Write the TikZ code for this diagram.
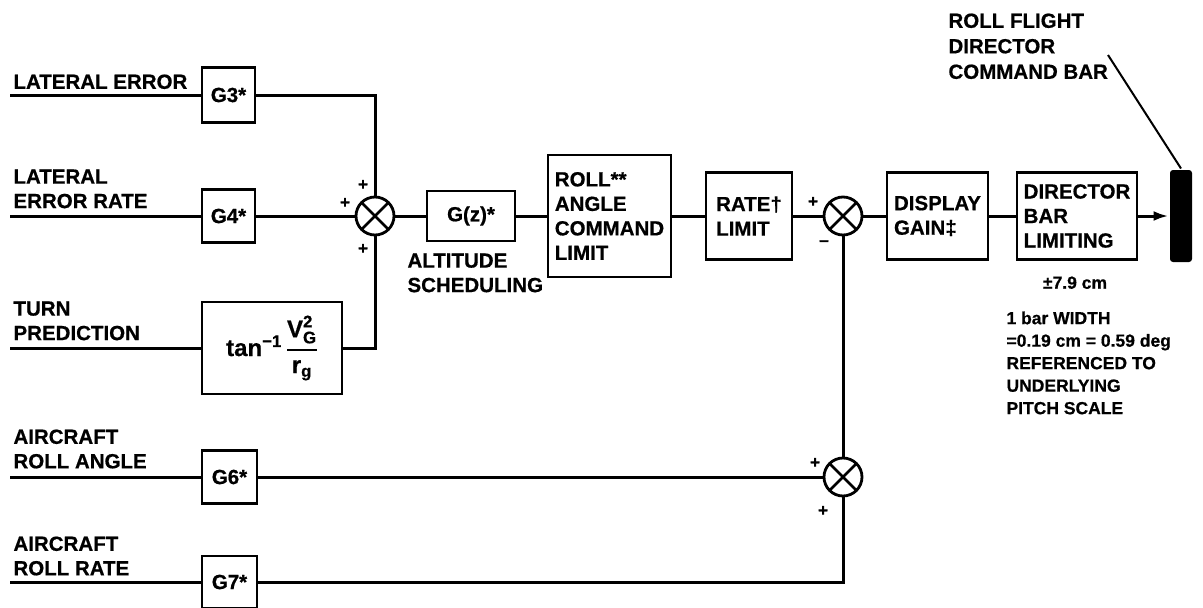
\documentclass[tikz,border=0pt]{standalone}
\usepackage{amsmath}
\usepackage{fontspec}
\setmainfont{Liberation Sans}[BoldFeatures={FakeBold=0.6}]
\usetikzlibrary{arrows.meta}
\tikzset{
  blk/.style={draw,line width=2.8pt,inner sep=0pt,align=left},
  sumj/.style={draw,circle,line width=2.8pt,minimum size=38pt,inner sep=0pt,
    path picture={\draw[line width=2.8pt](path picture bounding box.north west)--(path picture bounding box.south east)
      (path picture bounding box.north east)--(path picture bounding box.south west);}},
  lbl/.style={anchor=north west,inner sep=0pt,align=left},
  note/.style={anchor=north west,inner sep=0pt,align=left,font=\fontsize{17.5}{22.5}\selectfont\bfseries},
  sgn/.style={inner sep=0pt,font=\fontsize{17}{17}\selectfont\bfseries}
}

\begin{document}
\begin{tikzpicture}[x=1pt,y=-1pt,font=\fontsize{20.5}{24.5}\selectfont\bfseries,line width=3pt]
      \useasboundingbox (0,0) rectangle (1203,608);
      \node[lbl] (tle) at (12,73) {LATERAL ERROR};
      \node[lbl] (tler) at (12,168) {LATERAL\\ERROR RATE};
      \node[lbl] (ttp) at (12,300) {TURN\\PREDICTION};
      \node[lbl] (tara) at (12,428) {AIRCRAFT\\ROLL ANGLE};
      \node[lbl] (tarr) at (12,535) {AIRCRAFT\\ROLL RATE};
      \coordinate (i1) at (10,95); \coordinate (i2) at (10,216); \coordinate (i3) at (10,348);
      \coordinate (i6) at (10,477); \coordinate (i7) at (10,582);
      \node[blk,minimum width=53pt,minimum height=55pt] (g3) at (228.5,95) {G3*};
      \node[blk,minimum width=53pt,minimum height=53pt] (g4) at (228.5,216) {G4*};
      \node[blk,minimum width=140pt,minimum height=92pt,font=\fontsize{24}{28}\selectfont\bfseries] (tanf) at (272,348)
        {tan\textsuperscript{−1}\,$\genfrac{}{}{1.8pt}{0}{\text{V}^{\text{2}}_{\text{G}}}{\text{r}_{\text{g}}}$};
      \node[blk,minimum width=55pt,minimum height=53pt] (g6) at (229.5,477) {G6*};
      \node[blk,minimum width=55pt,minimum height=52pt] (g7) at (229.5,582) {G7*};
      \node[sumj] (s1) at (375,216) {}; \node[sumj] (s2) at (843,216) {}; \node[sumj] (s3) at (843,477) {};
      \node[blk,minimum width=88pt,minimum height=50pt] (gz) at (471,216) {G(z)*};
      \node[lbl] (talt) at (406,252) {ALTITUDE\\SCHEDULING};
      \node[blk,minimum width=123pt,minimum height=122pt] (roll) at (609.5,216) {ROLL**\\ANGLE\\COMMAND\\LIMIT};
      \node[blk,minimum width=86pt,minimum height=87pt] (rate) at (749,216) {RATE†\\LIMIT};
      \node[blk,minimum width=101pt,minimum height=87pt] (disp) at (937.5,216) {DISPLAY\\GAIN‡};
      \node[blk,minimum width=120pt,minimum height=87pt] (dbl) at (1077,216) {DIRECTOR\\BAR\\LIMITING};
      \node[fill=black,rounded corners=3pt,minimum width=22pt,minimum height=92pt,inner sep=0pt] (bar) at (1181,216) {};
      \node[lbl,font=\fontsize{20.5}{25.5}\selectfont\bfseries] (tbar) at (947,12) {ROLL FLIGHT\\DIRECTOR\\COMMAND BAR};
      \node[note,anchor=north] (tlim) at (1075,275) {±7.9 cm};
      \node[note] (twid) at (1005,310) {1 bar WIDTH\\=0.19 cm = 0.59 deg\\REFERENCED TO\\UNDERLYING\\PITCH SCALE};
      \node[sgn] (p1) at (363,185) {+}; \node[sgn] (p2) at (345,203) {+}; \node[sgn] (p3) at (363,249) {+};
      \node[sgn] (p4) at (813,202) {+}; \node[sgn] (m1) at (824,243) {–};
      \node[sgn] (p5) at (815,463) {+}; \node[sgn] (p6) at (823,511) {+};
      \draw (i1) -- (g3); \draw (g3) -| (s1);
      \draw (i2) -- (g4) -- (s1); \draw (i3) -- (tanf) -| (s1);
      \draw (s1) -- (gz) -- (roll) -- (rate) -- (s2) -- (disp) -- (dbl);
      \draw[-{Latex[length=15pt,width=10pt]}] (dbl) -- (bar);
      \draw (i6) -- (g6) -- (s3); \draw (i7) -- (g7) -| (s3); \draw (s3) -- (s2);
      \coordinate (lead) at (1108,55); \draw[line width=2pt] (lead) -- (bar.north);
    \end{tikzpicture}
\end{document}
